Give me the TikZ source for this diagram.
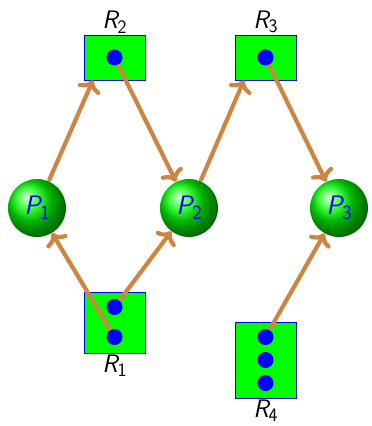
\documentclass[tikz,border=0pt]{standalone}
\usepackage{tikz}
\usetikzlibrary{shapes,arrows.meta,positioning,calc}
\definecolor{arcbrown}{RGB}{204,134,66}
\newcommand{\plbl}[2]{{\sffamily\itshape #1}\raisebox{-0.4ex}{\sffamily\scalebox{0.75}{#2}}}

\begin{document}
\begin{tikzpicture}[
    x=0.025cm, y=-0.025cm,
    place/.style={circle, ball color=green, minimum size=1.45cm, inner sep=0pt, text=blue, font=\fontsize{19}{22}\selectfont},
    trans/.style={rectangle, draw=blue, fill=green, minimum width=1.525cm, inner sep=0pt},
    token/.style={circle, fill=blue, minimum size=0.4cm, inner sep=0pt},
    lbl/.style={font=\fontsize{18}{21}\selectfont, inner sep=1pt},
    arc/.style={-{To[round]}, line width=3pt, arcbrown, line cap=round, shorten <=1pt}
]
    \useasboundingbox (0,0) rectangle (371,426);

    % Places
    \node[place] (P1) at (37,208) {\plbl{P}{1}};
    \node[place] (P2) at (189,208) {\plbl{P}{2}};
    \node[place] (P3) at (339,208) {\plbl{P}{3}};

    % Resources
    \node[trans, minimum height=1.125cm] (R2) at (114.5,57.5) {};
    \node[trans, minimum height=1.125cm] (R3) at (265.5,57.5) {};
    \node[trans, minimum height=1.525cm] (R1) at (114.5,322.5) {};
    \node[trans, minimum height=1.9cm] (R4) at (265.5,360) {};

    \node[lbl, above=0pt of R2] {\plbl{R}{2}};
    \node[lbl, above=0pt of R3] {\plbl{R}{3}};
    \node[lbl, below=0pt of R1] {\plbl{R}{1}};
    \node[lbl, below=0pt of R4] {\plbl{R}{4}};

    % Tokens
    \node[token] (t2) at (R2) {};
    \node[token] (t3) at (R3) {};
    \node[token] (t1a) at (114.5,307) {};
    \node[token] (t1b) at (114.5,337) {};
    \node[token] (t4a) at (265.5,337) {};
    \node[token] (t4b) at (265.5,360) {};
    \node[token] (t4c) at (265.5,383) {};

    % Arcs
    \draw[arc] (P1) -- ($(R2.south west)!0.15!(R2.south east)$);
    \draw[arc] (t2) -- (P2);
    \draw[arc] (P2) -- ($(R3.south west)!0.15!(R3.south east)$);
    \draw[arc] (t3) -- (P3);
    \draw[arc] (t1b) -- (P1);
    \draw[arc] (t1a) -- (P2);
    \draw[arc] (t4a) -- (P3);
\end{tikzpicture}
\end{document}
